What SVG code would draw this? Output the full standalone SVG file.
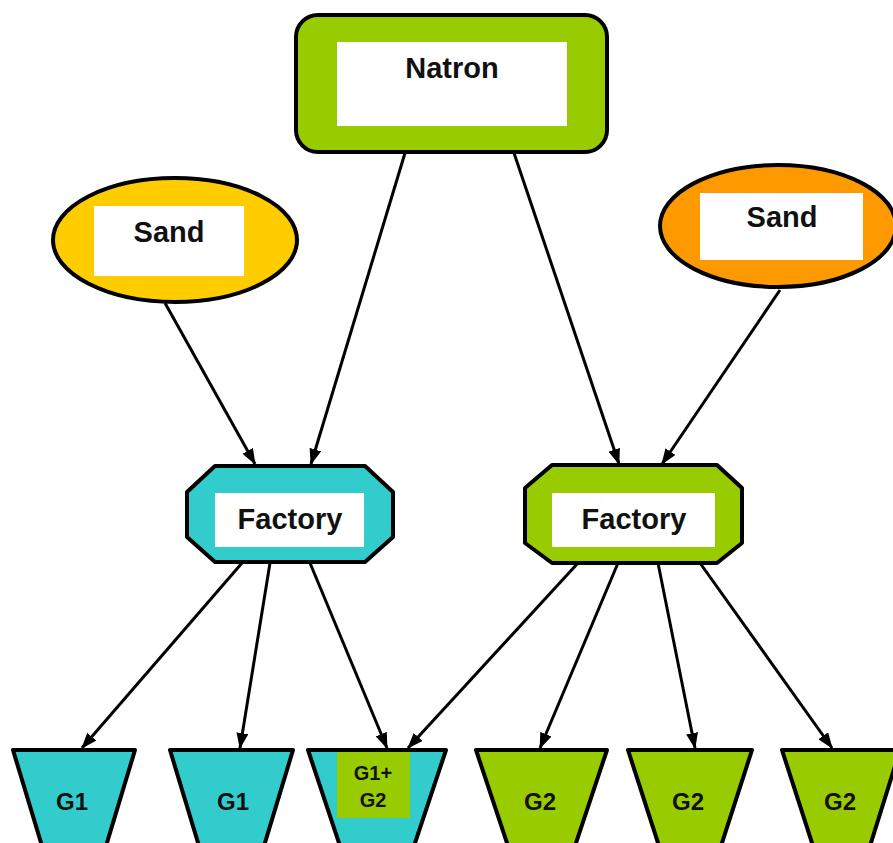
<svg xmlns="http://www.w3.org/2000/svg" width="893" height="843" viewBox="0 0 893 843">
<defs>
<style>
.shape{stroke:#000;stroke-width:4;stroke-linejoin:round}
.box{fill:#fff}
.lbl{font-family:"Liberation Sans",Arial,sans-serif;font-weight:bold;fill:#111;text-anchor:middle}
.big{font-size:29px}
.small{font-size:24px}
.tiny{font-size:20px}
.edge{stroke:#000;stroke-width:3;fill:none;marker-end:url(#ah)}
</style>
<marker id="ah" markerUnits="userSpaceOnUse" viewBox="0 0 16 12" refX="15" refY="6" markerWidth="16" markerHeight="12" orient="auto">
<path d="M0,0 L16,6 L0,12 Z" fill="#000"/>
</marker>
</defs>
<g id="natron">
<rect class="shape" x="296" y="15" width="311" height="137" rx="22" fill="#99cc00"/>
<rect class="box" x="337" y="42" width="230" height="84"/>
<text class="lbl big" x="452" y="78">Natron</text>
</g>
<g id="sand-left">
<ellipse class="shape" cx="175" cy="240" rx="122" ry="62" fill="#ffcc00"/>
<rect class="box" x="94" y="206" width="150" height="70"/>
<text class="lbl big" x="169" y="242">Sand</text>
</g>
<g id="sand-right">
<ellipse class="shape" cx="778" cy="226" rx="118" ry="61" fill="#ff9900"/>
<rect class="box" x="700" y="193" width="163" height="67"/>
<text class="lbl big" x="782" y="227">Sand</text>
</g>
<g id="factory-left">
<polygon class="shape" points="215,466 365,466 393,492 393,537 365,562 215,562 187,537 187,492" fill="#33cccc"/>
<rect class="box" x="215" y="493" width="149" height="54"/>
<text class="lbl big" x="290" y="529">Factory</text>
</g>
<g id="factory-right">
<polygon class="shape" points="552,465 717,465 742,488 742,543 717,563 552,563 525,543 525,488" fill="#99cc00"/>
<rect class="box" x="552" y="493" width="163" height="54"/>
<text class="lbl big" x="634" y="529">Factory</text>
</g>
<g id="g1a">
<polygon class="shape" points="13,750 135,750 106,846 42,846" fill="#33cccc"/>
<text class="lbl small" x="72" y="810">G1</text>
</g>
<g id="g1b">
<polygon class="shape" points="170,750 293,750 264,846 199,846" fill="#33cccc"/>
<text class="lbl small" x="233" y="810">G1</text>
</g>
<g id="g12">
<polygon class="shape" points="308,750 446,750 414,846 340,846" fill="#33cccc"/>
<rect x="337" y="752" width="73" height="66" fill="#99cc00"/>
<text class="lbl tiny" x="373" y="780">G1+</text>
<text class="lbl tiny" x="373" y="807">G2</text>
</g>
<g id="g2a">
<polygon class="shape" points="476,750 607,750 575,846 508,846" fill="#99cc00"/>
<text class="lbl small" x="540" y="810">G2</text>
</g>
<g id="g2b">
<polygon class="shape" points="628,750 752,750 721,846 659,846" fill="#99cc00"/>
<text class="lbl small" x="688" y="810">G2</text>
</g>
<g id="g2c">
<polygon class="shape" points="782,750 900,750 870,846 813,846" fill="#99cc00"/>
<text class="lbl small" x="840" y="810">G2</text>
</g>
<g id="connectors">
<line class="edge" x1="405" y1="153" x2="311" y2="464"/>
<line class="edge" x1="514" y1="153" x2="619" y2="464"/>
<line class="edge" x1="165" y1="303" x2="255" y2="464"/>
<line class="edge" x1="780" y1="290" x2="662" y2="464"/>
<line class="edge" x1="242" y1="563" x2="82" y2="748"/>
<line class="edge" x1="270" y1="563" x2="240" y2="748"/>
<line class="edge" x1="310" y1="563" x2="387" y2="748"/>
<line class="edge" x1="578" y1="563" x2="408" y2="748"/>
<line class="edge" x1="618" y1="563" x2="540" y2="748"/>
<line class="edge" x1="658" y1="563" x2="695" y2="748"/>
<line class="edge" x1="700" y1="563" x2="832" y2="748"/>
</g>
</svg>
